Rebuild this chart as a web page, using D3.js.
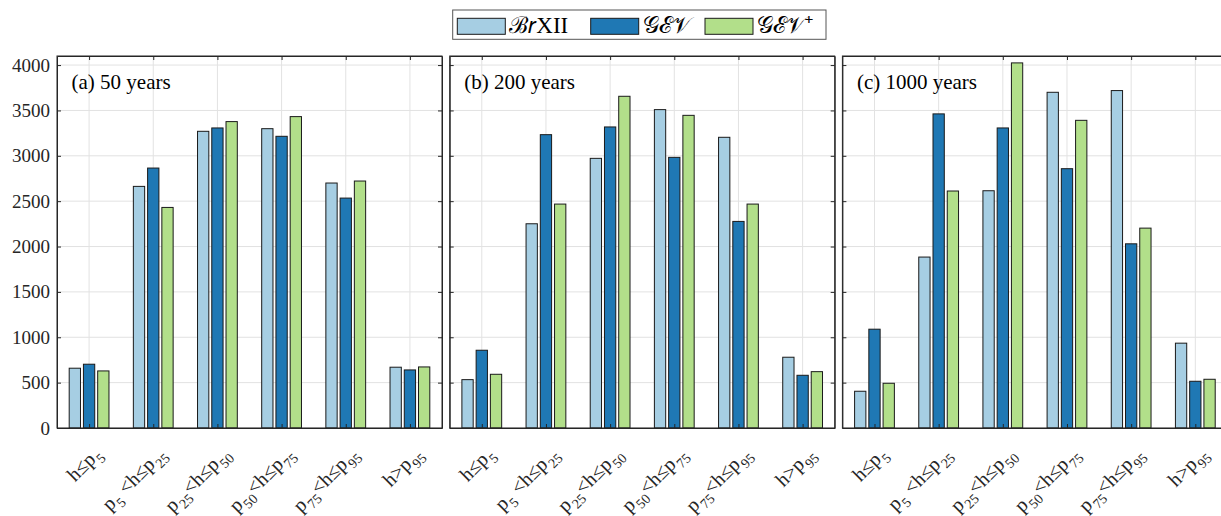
<!DOCTYPE html>
<html>
<head>
<meta charset="utf-8">
<script src="https://cdn.jsdelivr.net/npm/d3@7"></script>
<style>
  html, body { margin: 0; padding: 0; background: #fff; }
  svg { display: block; }
  svg text { font-family: "Liberation Serif", "Times New Roman", serif !important; }
</style>
</head>
<body>
<svg id="chart" width="1221" height="516"></svg>
<script>
// Return-period panels
const panelTitles = ["(a) 50 years", "(b) 200 years", "(c) 1000 years"];

// Height classes on the x axis (TeX-like: _{...} is a subscript)
const tickLabels = [
  "h≤p_{5}",
  "p_{5} <h≤p_{25}",
  "p_{25}<h≤p_{50}",
  "p_{50}<h≤p_{75}",
  "p_{75}<h≤p_{95}",
  "h>p_{95}"
];

// Series names for the legend
const seriesNames = ["ℬ𝑟XII", "𝒢ℰ𝒱", "𝒢ℰ𝒱⁺"];
const seriesColors = ["#a6cee3", "#1f78b4", "#b2df8a"];

// Values per panel (rows: 50, 200, 1000 years; columns: height classes)
const brxii = [
  [659, 2663, 3270, 3299, 2700, 670],
  [533, 2251, 2972, 3509, 3204, 780],
  [405, 1884, 2615, 3700, 3719, 935]
];
const gev = [
  [703, 2865, 3307, 3215, 2534, 640],
  [857, 3233, 3318, 2983, 2277, 581],
  [1089, 3462, 3307, 2858, 2030, 515]
];
const gevPlus = [
  [629, 2431, 3377, 3432, 2722, 673],
  [592, 2468, 3656, 3446, 2468, 621],
  [493, 2612, 4024, 3391, 2203, 537]
];

const yTicks = d3.range(0, 4001, 500);
const yMax = 4100;

const svg = d3.select("#chart");
const axisColor = "#262626";
const gridColor = "#e2e2e2";

const panelLeft = [57, 449.7, 842.4];
const plotTop = 56, plotW = 385, plotH = 372;

const x = d3.scaleLinear().domain([0.5, 6.5]).range([0, plotW]);
const y = d3.scaleLinear().domain([0, yMax]).range([plotH, 0]);
const barW = 0.176;
const barOffset = 0.222;
const seriesData = [brxii, gev, gevPlus];

function writeTex(textSel, str, baseSize, subSize) {
  const parts = str.split(/(_\{[^}]*\})/).filter(s => s.length);
  let lowered = false;
  parts.forEach(p => {
    if (p.startsWith("_{")) {
      textSel.append("tspan")
        .attr("font-size", subSize)
        .attr("dx", 1)
        .attr("dy", lowered ? 0 : subSize * 0.42)
        .text(p.slice(2, -1));
      lowered = true;
    } else {
      textSel.append("tspan")
        .attr("font-size", baseSize)
        .attr("dy", lowered ? -subSize * 0.42 : 0)
        .text(p);
      lowered = false;
    }
  });
}

panelTitles.forEach((title, pi) => {
  const g = svg.append("g").attr("transform", `translate(${panelLeft[pi]},${plotTop})`);

  // white plot background
  g.append("rect").attr("width", plotW).attr("height", plotH).attr("fill", "#fff");

  // grid
  g.append("g").selectAll("line").data(yTicks).join("line")
    .attr("x1", 0).attr("x2", plotW)
    .attr("y1", d => y(d)).attr("y2", d => y(d))
    .attr("stroke", gridColor).attr("stroke-width", 1);
  g.append("g").selectAll("line").data(d3.range(1, tickLabels.length + 1)).join("line")
    .attr("y1", 0).attr("y2", plotH)
    .attr("x1", d => x(d)).attr("x2", d => x(d))
    .attr("stroke", gridColor).attr("stroke-width", 1);

  // bars
  seriesData.forEach((series, si) => {
    g.append("g").selectAll("rect").data(series[pi]).join("rect")
      .attr("x", (d, i) => x(i + 1 + (si - 1) * barOffset - barW / 2))
      .attr("width", x(barW) - x(0))
      .attr("y", d => y(d))
      .attr("height", d => y(0) - y(d))
      .attr("fill", seriesColors[si])
      .attr("stroke", "#1a1a1a")
      .attr("stroke-width", 1);
  });

  // axes with inward ticks
  const yAxisL = d3.axisLeft(y).tickValues(yTicks).tickSizeInner(-4).tickSizeOuter(0).tickPadding(7)
    .tickFormat(pi === 0 ? d3.format("d") : () => "");
  const yAxisR = d3.axisRight(y).tickValues(yTicks).tickSizeInner(-4).tickSizeOuter(0).tickFormat(() => "");
  const xAxisB = d3.axisBottom(x).tickValues(d3.range(1, 7)).tickSizeInner(-4).tickSizeOuter(0).tickFormat(() => "");
  const xAxisT = d3.axisTop(x).tickValues(d3.range(1, 7)).tickSizeInner(-4).tickSizeOuter(0).tickFormat(() => "");

  const gl = g.append("g").call(yAxisL);
  g.append("g").attr("transform", `translate(${plotW},0)`).call(yAxisR);
  g.append("g").attr("transform", `translate(0,${plotH})`).call(xAxisB);
  g.append("g").call(xAxisT);
  g.selectAll(".domain").attr("stroke", axisColor);
  g.selectAll(".tick line").attr("stroke", axisColor);
  gl.selectAll("text").attr("font-size", 19).attr("fill", axisColor);

  // box
  g.append("rect").attr("width", plotW).attr("height", plotH)
    .attr("fill", "none").attr("stroke", axisColor).attr("stroke-width", 1);

  // rotated category labels
  tickLabels.forEach((lab, i) => {
    const t = g.append("text")
      .attr("transform", `translate(${x(i + 1) + 13.5},${plotH + 27}) rotate(-45)`)
      .attr("text-anchor", "end")
      .attr("fill", axisColor);
    writeTex(t, lab, 20, 14);
  });

  // panel title
  g.append("text")
    .attr("x", 14.5).attr("y", 33.3)
    .attr("font-size", 21)
    .attr("fill", "#000")
    .text(title);
});

// legend
const lg = svg.append("g");
const legX = 452.7, legY = 10, legW = 373.3, legH = 29.3;
const legItemX = [457.3, 590.7, 705];
lg.append("rect").attr("x", legX).attr("y", legY).attr("width", legW).attr("height", legH)
  .attr("fill", "#fff").attr("stroke", "#555").attr("stroke-width", 1);
seriesNames.forEach((name, i) => {
  const cx = legItemX[i];
  lg.append("rect").attr("x", cx).attr("y", legY + 8.3).attr("width", 48).attr("height", 16)
    .attr("fill", seriesColors[i]).attr("stroke", "#1a1a1a").attr("stroke-width", 1);
  lg.append("text").attr("x", cx + 52).attr("y", legY + 22.5)
    .attr("font-size", 23).attr("fill", "#000").text(name);
});
</script>
</body>
</html>
